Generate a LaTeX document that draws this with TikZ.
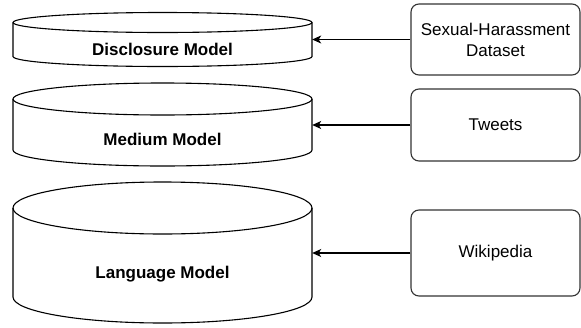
\documentclass[tikz,border=0pt]{standalone}
\usepackage{fontspec}
\setmainfont{Liberation Sans}
\usetikzlibrary{arrows.meta}
\tikzset{
  cylline/.style={draw=black, line width=1.1pt},
  lbl/.style={font=\fontsize{17}{21}\selectfont\bfseries, inner sep=0pt},
  srcbox/.style={draw=black!80, line width=1.1pt, rounded corners=8pt, minimum width=169pt, align=center, font=\fontsize{17}{21}\selectfont, inner sep=0pt},
  body/.style={inner sep=0pt, minimum width=299pt},
  arr/.style={draw=black, line width=1.1pt, -{Stealth[length=9pt,width=8pt,inset=2.5pt]}}
}
\begin{document}
\begin{tikzpicture}[x=1pt,y=-1pt]
\useasboundingbox (0,0) rectangle (581,327);
% Disclosure cylinder
\draw[cylline] (13,22.5) -- (13,56.5) arc[start angle=180, end angle=0, x radius=149.5, y radius=10] -- (312,22.5);
\draw[cylline] (162.5,22.5) ellipse [x radius=149.5, y radius=10];
\node[body, minimum height=54pt] (disc) at (162.5,39.5) {};
\node[lbl] (disclbl) at (162.5,49.5) {Disclosure Model};
% Medium cylinder
\draw[cylline] (13,99) -- (13,150) arc[start angle=180, end angle=0, x radius=149.5, y radius=16] -- (312,99);
\draw[cylline] (162.5,99) ellipse [x radius=149.5, y radius=16];
\node[body, minimum height=83pt] (med) at (162.5,124.5) {};
\node[lbl] (medlbl) at (162.5,139) {Medium Model};
% Language cylinder
\draw[cylline] (13,208) -- (13,297) arc[start angle=180, end angle=0, x radius=149.5, y radius=26] -- (312,208);
\draw[cylline] (162.5,208) ellipse [x radius=149.5, y radius=26];
\node[body, minimum height=141pt] (lang) at (162.5,252.5) {};
\node[lbl] (langlbl) at (162.5,274) {Language Model};
% Source boxes
\node[srcbox, minimum height=71pt] (sh) at (495.5,39.5) {Sexual-Harassment\\Dataset};
\node[srcbox, minimum height=72pt] (tw) at (495.5,125) {Tweets};
\node[srcbox, minimum height=86pt] (wk) at (495.5,253) {Wikipedia};
% Arrows
\draw[arr] (sh.west) -- (sh.west -| disc.east);
\draw[arr] (tw.west) -- (tw.west -| med.east);
\draw[arr] (wk.west) -- (wk.west -| lang.east);
\end{tikzpicture}
\end{document}
